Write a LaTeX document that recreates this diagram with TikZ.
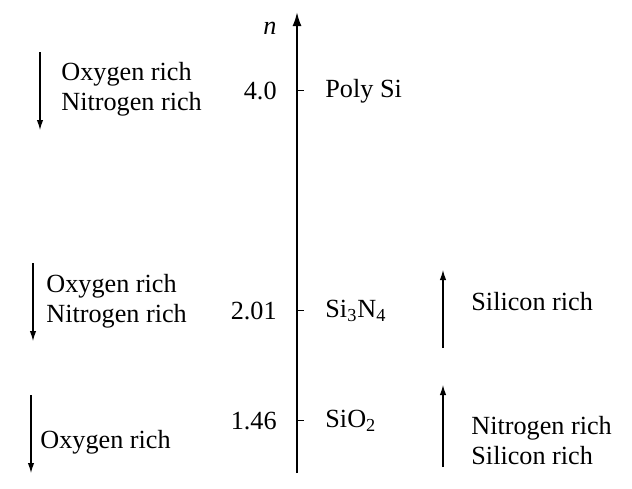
\documentclass[tikz,border=0pt]{standalone}
\usepackage{fontspec}
\setmainfont{Liberation Serif}
\usetikzlibrary{arrows.meta}

\begin{document}
\begin{tikzpicture}[
    x=0.5pt, y=-0.5pt,
    >={Latex[length=5pt,width=3.2pt]},
    font=\fontsize{13.1}{15}\selectfont,
    lbl/.style={inner sep=0pt, align=left},
    axis/.style={->, line width=1pt, >={Latex[length=7pt,width=4.5pt]}},
    trend/.style={->, line width=0.55pt},
    tickmark/.style={line width=0.5pt},
]
\useasboundingbox (0,0) rectangle (632,488);

\def\axX{297}
\def\valX{277}
\def\matX{325}

% axis
\coordinate (bot) at (\axX,473);
\coordinate (top) at (\axX,12);
\draw[axis] (bot) -- (top);
\node[lbl] (n) at (270,28) {\textit{n}};

% levels
\foreach \y/\v/\m [count=\i] in {90/4.0/Poly Si, 310/2.01/Si\textsubscript{3}N\textsubscript{4}, 420/1.46/SiO\textsubscript{2}} {
    \coordinate (t\i) at (\axX,\y);
    \draw[tickmark] (t\i) -- ++(7,0);
    \node[lbl, anchor=east] (v\i) at (\valX,\y+1) {\v};
    \node[lbl, anchor=west] (m\i) at (\matX,\y+1) {\m};
}

% left side
\coordinate (la1) at (40,52);  \coordinate (lb1) at (40,130);
\coordinate (la2) at (33,263); \coordinate (lb2) at (33,341);
\coordinate (la3) at (31,395); \coordinate (lb3) at (31,473);
\draw[trend] (la1) -- (lb1);
\draw[trend] (la2) -- (lb2);
\draw[trend] (la3) -- (lb3);
\node[lbl, anchor=west] (l1) at (61,89) {Oxygen rich\\Nitrogen rich};
\node[lbl, anchor=west] (l2) at (46,301) {Oxygen rich\\Nitrogen rich};
\node[lbl, anchor=west] (l3) at (40,442) {Oxygen rich};

% right side
\coordinate (ra1) at (443,348); \coordinate (rb1) at (443,270);
\coordinate (ra2) at (443,467); \coordinate (rb2) at (443,385);
\draw[trend] (ra1) -- (rb1);
\draw[trend] (ra2) -- (rb2);
\node[lbl, anchor=west] (r1) at (471,302) {Silicon rich};
\node[lbl, anchor=west] (r2) at (471,441) {Nitrogen rich\\Silicon rich};

\end{tikzpicture}
\end{document}
